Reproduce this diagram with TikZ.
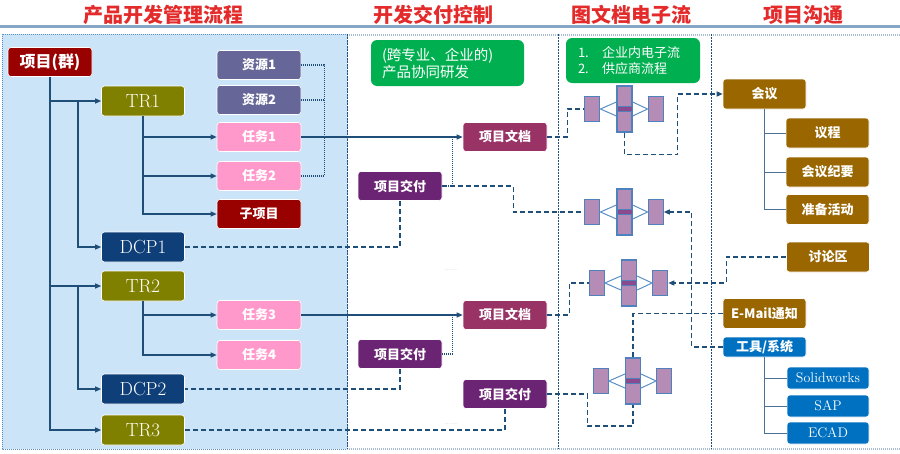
\documentclass[tikz,border=0pt]{standalone}
\usepackage{fontspec}
\newfontfamily\cjk{Noto Sans CJK SC}
\usetikzlibrary{positioning,arrows.meta}

\definecolor{cRed}{HTML}{990000}
\definecolor{cOlive}{HTML}{808000}
\definecolor{cNavy}{HTML}{0F3F78}
\definecolor{cSlate}{HTML}{666699}
\definecolor{cPink}{HTML}{FF99CC}
\definecolor{cMaroon}{HTML}{993366}
\definecolor{cPurple}{HTML}{6B2373}
\definecolor{cBrown}{HTML}{996600}
\definecolor{cBlue}{HTML}{0070C0}
\definecolor{cGreen}{HTML}{00B050}
\definecolor{cTitle}{HTML}{E32B2B}
\definecolor{cPanel}{HTML}{CCE4F8}
\definecolor{cLink}{HTML}{1F4E79}
\definecolor{cRule}{HTML}{86A6C6}
\definecolor{cFrame}{HTML}{A8BCD4}
\definecolor{cCell}{HTML}{B48CB6}
\definecolor{cCellLine}{HTML}{4F81BD}
\definecolor{cBand}{HTML}{8A4A8E}
\definecolor{cThin}{HTML}{5B8FC4}

\tikzset{
  base/.style={rounded corners=3pt, minimum width=84pt, minimum height=29pt,
    inner sep=0pt, text=white, draw=white, line width=0.6pt,
    font=\cjk\bfseries\fontsize{13}{15}\selectfont},
  grpbox/.style={base, fill=cRed, font=\cjk\bfseries\fontsize{16}{18}\selectfont},
  trbox/.style={base, fill=cOlive, minimum width=83pt, minimum height=30pt,
    font=\fontsize{19}{21}\selectfont},
  dcpbox/.style={trbox, fill=cNavy},
  resbox/.style={base, fill=cSlate},
  taskbox/.style={base, fill=cPink},
  subbox/.style={base, fill=cRed},
  docbox/.style={base, fill=cMaroon},
  delbox/.style={base, fill=cPurple},
  commbox/.style={base, fill=cBrown, minimum width=83pt, minimum height=30pt},
  toolbox/.style={base, fill=cBlue, minimum width=83pt, minimum height=20pt},
  sysbox/.style={base, fill=cBlue, minimum width=82pt, minimum height=22pt,
    font=\fontsize{14}{16}\selectfont},
  notebox/.style={rounded corners=6pt, fill=cGreen, text=white, align=left,
    inner ysep=0pt},
  title/.style={text=cTitle, font=\cjk\bfseries\fontsize{20}{22}\selectfont},
  link/.style={cLink, line width=1.1pt},
  dashlink/.style={cLink, line width=1.3pt, dash pattern=on 5pt off 3pt},
  dotlink/.style={cLink, line width=1.2pt, dash pattern=on 1pt off 1pt},
  tree/.style={cLink!80, line width=1pt},
  fcell/.style={fill=cCell, draw=cCellLine, line width=1.2pt, inner sep=0pt,
    minimum width=15pt, minimum height=25pt},
  fband/.style={fill=cBand, draw=cCellLine, line width=0.6pt, inner sep=0pt,
    minimum width=15pt, minimum height=5pt},
  fline/.style={cThin, line width=1pt},
}

% one unit of the electronic flow: left cell, centre column, right cell
\newcommand{\flowunit}[2]{%
  \node[fcell, minimum height=46pt] (#1c) at (#2) {};
  \node[fband] at (#1c) {};
  \node[fcell, left=16pt of #1c] (#1l) {};
  \node[fcell, right=15pt of #1c] (#1r) {};
  \draw[fline] ([yshift=7pt]#1c.west) -- (#1l.east) -- ([yshift=-7pt]#1c.west);
  \draw[fline] ([yshift=7pt]#1c.east) -- (#1r.west) -- ([yshift=-7pt]#1c.east);
}

\begin{document}
\begin{tikzpicture}[x=1pt, y=-1pt, >={Triangle[length=6pt,width=5pt]}]
\useasboundingbox (0,0) rectangle (900,453);

% panels
\fill[cPanel] (2,34) rectangle (347,449);
\draw[cThin, line width=0.6pt, dash pattern=on 1pt off 1pt] (2,34) rectangle (347,449);
\draw[cRule, line width=2.5pt] (0,26.5) -- (900,26.5);
\draw[cFrame, line width=2pt, dash pattern=on 1pt off 1pt] (347,35) -- (900,35) (347,449) -- (900,449);
\draw[cLink, line width=0.8pt, dash pattern=on 2pt off 1pt] (347,34) -- (347,449) (558,34) -- (558,449) (711,34) -- (711,449);

% titles
\node[title] (t1) at (163.5,15) {产品开发管理流程};
\node[title] (t2) at (433,15) {开发交付控制};
\node[title] (t3) at (631,15) {图文档电子流};
\node[title] (t4) at (803.5,15) {项目沟通};

% product development
\node[grpbox] (grp) at (50,62) {项目(群)};
\node[trbox] (tr1) at (143,101) {TR1};
\node[resbox] (zy1) at (259,65) {资源1};
\node[resbox] (zy2) at (259,100) {资源2};
\node[taskbox] (rw1) at (259,137) {任务1};
\node[taskbox] (rw2) at (259,176) {任务2};
\node[subbox] (sub) at (259,214) {子项目};
\node[dcpbox] (dcp1) at (143,247) {DCP1};
\node[trbox] (tr2) at (143,286) {TR2};
\node[taskbox] (rw3) at (259,315) {任务3};
\node[taskbox] (rw4) at (259,355) {任务4};
\node[dcpbox] (dcp2) at (143,389) {DCP2};
\node[trbox] (tr3) at (143,430) {TR3};

\draw[link,->] (grp.south) |- (tr1.west);
\draw[link,->] (grp.south) |- (tr2.west);
\draw[link,->] (grp.south) |- (tr3.west);
\coordinate (j1) at (78,101);
\coordinate (j2) at (78,286);
\draw[link,->] (j1) |- (dcp1.west);
\draw[link,->] (j2) |- (dcp2.west);
\draw[link,->] (tr1.south) |- (rw1.west);
\draw[link,->] (tr1.south) |- (rw2.west);
\draw[link,->] (tr1.south) |- (sub.west);
\draw[link,->] (tr2.south) |- (rw3.west);
\draw[link,->] (tr2.south) |- (rw4.west);
\draw[dotlink] (zy1.east) -- ++(23,0) coordinate (k1) |- (rw2.east);
\draw[dotlink] (zy2.east) -- (zy2.east -| k1);

% delivery control
\node[notebox, minimum width=153pt, minimum height=46pt, text width=131pt,
  inner xsep=11pt, font=\cjk\fontsize{14.5}{17}\selectfont] (note1) at (447.5,63)
  {(跨专业、企业的)\\产品协同研发};
\node[docbox] (doc1) at (505,137) {项目文档};
\node[delbox] (del1) at (400,186) {项目交付};
\node[docbox] (doc2) at (505,315) {项目文档};
\node[delbox] (del2) at (400,354) {项目交付};
\node[delbox] (del3) at (505,394) {项目交付};
\node[text=cThin, font=\fontsize{5}{5}\selectfont] (gap1) at (451,270) {......};
\node[text=cThin, font=\fontsize{5}{5}\selectfont] (gap2) at (451,424) {......};

\draw[link,->] (rw1.east) -- (doc1.west);
\draw[link,->] (rw3.east) -- (doc2.west);
\draw[dotlink] (del1.east) -| ([xshift=-10pt]doc1.west);
\draw[dotlink] (del2.east) -| ([xshift=-10pt]doc2.west);
\draw[dashlink] (del1.south) |- (dcp1.east);
\draw[dashlink] (del2.south) |- (dcp2.east);
\draw[dashlink] (del3.south) |- (tr3.east);

% electronic document flow
\node[notebox, minimum width=134pt, minimum height=45pt, text width=110pt,
  inner xsep=12pt, font=\cjk\fontsize{13}{16}\selectfont] (note2) at (633,60.5)
  {\makebox[24pt][l]{1.}企业内电子流\\\makebox[24pt][l]{2.}供应商流程};
\flowunit{f1}{624.5,109}
\flowunit{f2}{624.5,212}
\flowunit{f3}{629,283}
\flowunit{f4}{633,381}

\draw[dashlink] (doc1.east) -- ++(20,0) |- (f1l.west);
\draw[dashlink] (del1.east) -| ++(71,26) -- (f2l.west);
\draw[dashlink] (doc2.east) -- ++(22,0) |- (f3l.west);
\draw[dashlink] (del3.east) -- ++(40,0) -- ++(0,32) -| (f4c.south);

% project communication
\node[commbox] (mtg) at (764.5,94) {会议};
\node[commbox] (agenda) at (827.5,133) {议程};
\node[commbox] (minutes) at (827.5,172) {会议纪要};
\node[commbox] (prep) at (827.5,209.5) {准备活动};
\node[commbox] (disc) at (828,257) {讨论区};
\node[commbox] (mail) at (764.5,313.5) {E-Mail通知};
\node[toolbox] (tool) at (764.5,347) {工具/系统};
\node[sysbox] (sw) at (828,378) {Solidworks};
\node[sysbox] (sap) at (828,406) {SAP};
\node[sysbox] (ecad) at (828,433) {ECAD};

\draw[tree] (mtg.south) |- (agenda.west);
\draw[tree] (mtg.south) |- (minutes.west);
\draw[tree] (mtg.south) |- (prep.west);
\draw[tree] (tool.south) |- (sw.west);
\draw[tree] (tool.south) |- (sap.west);
\draw[tree] (tool.south) |- (ecad.west);

\draw[dashlink,->] (f1c.south) |- ++(53,22) |- (mtg.west);
\draw[dashlink,->] (tool.west) -- ++(-31,0) |- (f2r.east);
\draw[dashlink,->] (disc.west) -- ++(-60,0) |- (f3r.east);
\draw[dashlink] (mail.west) -| (f4c.north);

\end{tikzpicture}
\end{document}
